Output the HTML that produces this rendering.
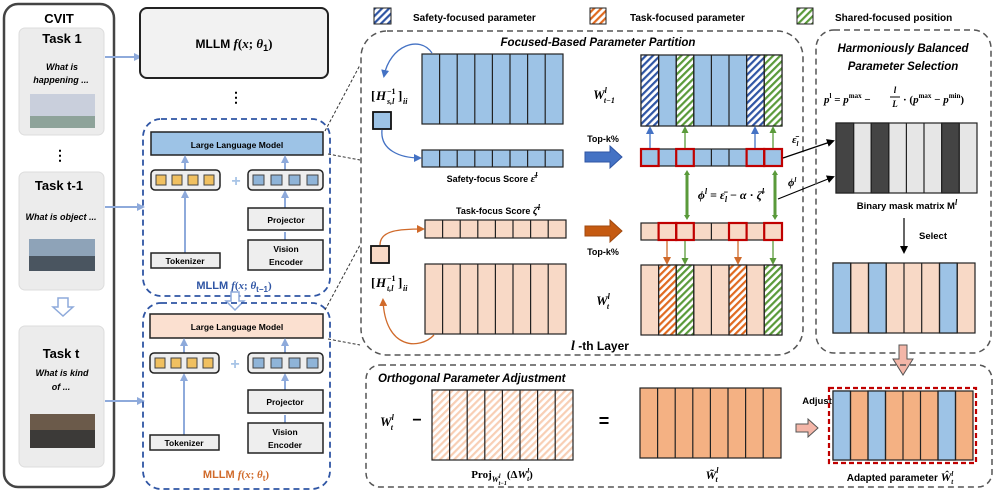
<!DOCTYPE html>
<html><head><meta charset="utf-8"><style>
html,body{margin:0;padding:0;background:#fff}
svg{display:block;font-family:"Liberation Sans",sans-serif}
.b{font-weight:bold}
.m{font-family:"Liberation Serif",serif;font-style:italic;font-weight:bold}
</style></head><body>
<svg width="997" height="493" viewBox="0 0 997 493" xmlns="http://www.w3.org/2000/svg">
<defs>
<pattern id="hb" width="5" height="5" patternUnits="userSpaceOnUse" patternTransform="rotate(45)"><rect width="5" height="5" fill="#fff"/><rect width="2.2" height="5" fill="#2f55a4"/></pattern>
<pattern id="ho" width="5" height="5" patternUnits="userSpaceOnUse" patternTransform="rotate(45)"><rect width="5" height="5" fill="#fff"/><rect width="2.2" height="5" fill="#e06a20"/></pattern>
<pattern id="hg" width="5" height="5" patternUnits="userSpaceOnUse" patternTransform="rotate(45)"><rect width="5" height="5" fill="#fff"/><rect width="2.2" height="5" fill="#5a9a3a"/></pattern>
<pattern id="hp" width="5" height="5" patternUnits="userSpaceOnUse" patternTransform="rotate(45)"><rect width="5" height="5" fill="#fff"/><rect width="2.2" height="5" fill="#f8cfb5"/></pattern>
<marker id="ab" markerWidth="8" markerHeight="8" refX="6" refY="4" orient="auto" markerUnits="userSpaceOnUse"><path d="M0,0 L8,4 L0,8 z" fill="#8eaadb"/></marker>
<marker id="ab2" markerWidth="8" markerHeight="8" refX="6" refY="4" orient="auto" markerUnits="userSpaceOnUse"><path d="M0,0 L8,4 L0,8 z" fill="#4472c4"/></marker>
<marker id="ao" markerWidth="8" markerHeight="8" refX="6" refY="4" orient="auto" markerUnits="userSpaceOnUse"><path d="M0,0 L8,4 L0,8 z" fill="#d06a2a"/></marker>
<marker id="ag" markerWidth="7" markerHeight="7" refX="5" refY="3.5" orient="auto" markerUnits="userSpaceOnUse"><path d="M0,0 L7,3.5 L0,7 z" fill="#5a9a3a"/></marker>
<marker id="ak" markerWidth="8" markerHeight="8" refX="6" refY="4" orient="auto" markerUnits="userSpaceOnUse"><path d="M0,0 L8,4 L0,8 z" fill="#000"/></marker>
</defs>

<!-- LEFT CVIT -->
<rect x="4" y="4" width="110" height="483" rx="14" fill="#fff" stroke="#444" stroke-width="2.5"/>
<text x="59" y="23" font-size="13" class="b" text-anchor="middle">CVIT</text>
<rect x="19" y="28" width="85" height="107" rx="6" fill="#ececec" stroke="#ddd"/>
<text x="62" y="43" font-size="13" class="b" text-anchor="middle">Task 1</text>
<text x="62" y="70" font-size="9" font-style="italic" class="b" text-anchor="middle">What is</text>
<text x="61" y="83" font-size="9" font-style="italic" class="b" text-anchor="middle">happening ...</text>
<rect x="30" y="94" width="65" height="34" fill="#c9cfdc"/><rect x="30" y="116" width="65" height="12" fill="#8ea39a"/>
<text x="60" y="160" font-size="14" class="b" text-anchor="middle">⋮</text>
<rect x="19" y="172" width="85" height="118" rx="6" fill="#ececec" stroke="#ddd"/>
<text x="59" y="190" font-size="13" class="b" text-anchor="middle">Task t-1</text>
<text x="61" y="220" font-size="9" font-style="italic" class="b" text-anchor="middle">What is object ...</text>
<rect x="29" y="239" width="66" height="32" fill="#8ea3b8"/><rect x="29" y="256" width="66" height="15" fill="#4a5560"/>
<path d="M58,298 h10 v9 h5 l-10,9 l-10,-9 h5 z" fill="#fff" stroke="#8eaadb" stroke-width="1.5"/>
<rect x="19" y="326" width="85" height="141" rx="6" fill="#ececec" stroke="#ddd"/>
<text x="61" y="358" font-size="13" class="b" text-anchor="middle">Task t</text>
<text x="62" y="376" font-size="9" font-style="italic" class="b" text-anchor="middle">What is kind</text>
<text x="61" y="390" font-size="9" font-style="italic" class="b" text-anchor="middle">of ...</text>
<rect x="30" y="414" width="65" height="34" fill="#6b5a4a"/><rect x="30" y="430" width="65" height="18" fill="#3c3a38"/>

<line x1="105" y1="57" x2="140" y2="57" stroke="#8eaadb" stroke-width="2" marker-end="url(#ab)"/>
<line x1="105" y1="207" x2="143" y2="207" stroke="#8eaadb" stroke-width="2" marker-end="url(#ab)"/>
<line x1="105" y1="401" x2="143" y2="401" stroke="#8eaadb" stroke-width="2" marker-end="url(#ab)"/>

<!-- MLLM 1 -->
<rect x="140" y="8" width="188" height="70" rx="7" fill="#f2f2f2" stroke="#222" stroke-width="2"/>
<text x="234" y="48" font-size="12" class="b" text-anchor="middle">MLLM <tspan class="m" font-size="13">f</tspan><tspan font-family="Liberation Serif" font-size="13">(</tspan><tspan class="m" font-size="13">x</tspan><tspan font-family="Liberation Serif" font-size="13">; </tspan><tspan class="m" font-size="13">θ</tspan><tspan font-size="9" dy="3">1</tspan><tspan font-family="Liberation Serif" font-size="13" dy="-3">)</tspan></text>
<text x="236" y="102" font-size="14" class="b" text-anchor="middle">⋮</text>

<!-- MLLM t-1 -->
<rect x="143" y="119" width="187" height="177" rx="18" fill="none" stroke="#2f55a4" stroke-width="1.8" stroke-dasharray="6,4"/>
<rect x="151" y="132" width="172" height="23" fill="#9dc3e6" stroke="#222" stroke-width="1.5"/>
<text x="237" y="148" font-size="8.5" class="b" text-anchor="middle">Large Language Model</text>
<g stroke="#8eaadb" stroke-width="2" fill="none">
<line x1="185" y1="170" x2="185" y2="157" marker-end="url(#ab)"/><line x1="285" y1="170" x2="285" y2="157" marker-end="url(#ab)"/>
<line x1="185" y1="253" x2="185" y2="192" marker-end="url(#ab)"/><line x1="285" y1="208" x2="285" y2="192" marker-end="url(#ab)"/>
<line x1="285" y1="240" x2="285" y2="232"/>
</g>
<rect x="151" y="170" width="69" height="20" rx="4" fill="#eee" stroke="#222" stroke-width="1.5"/>
<g fill="#f0c060" stroke="#444"><rect x="156" y="175" width="10" height="10"/><rect x="172" y="175" width="10" height="10"/><rect x="188" y="175" width="10" height="10"/><rect x="204" y="175" width="10" height="10"/></g>
<text x="236" y="186" font-size="16" class="b" fill="#a8c4e6" text-anchor="middle">+</text>
<rect x="248" y="170" width="75" height="20" rx="4" fill="#eee" stroke="#222" stroke-width="1.5"/>
<g fill="#8fb4d8" stroke="#444"><rect x="253" y="175" width="11" height="10"/><rect x="271" y="175" width="11" height="10"/><rect x="289" y="175" width="11" height="10"/><rect x="307" y="175" width="11" height="10"/></g>
<rect x="248" y="208" width="75" height="22" fill="#eee" stroke="#222" stroke-width="1.5"/>
<text x="286" y="223" font-size="8.5" class="b" text-anchor="middle">Projector</text>
<rect x="248" y="240" width="75" height="30" fill="#eee" stroke="#222" stroke-width="1.5"/>
<text x="286" y="252" font-size="8.5" class="b" text-anchor="middle">Vision</text><text x="286" y="265" font-size="8.5" class="b" text-anchor="middle">Encoder</text>
<rect x="151" y="253" width="69" height="15" fill="#eee" stroke="#222" stroke-width="1.5"/>
<text x="185" y="264" font-size="8.5" class="b" text-anchor="middle">Tokenizer</text>
<text x="234" y="289" font-size="11" class="b" fill="#2f55a4" text-anchor="middle">MLLM <tspan class="m">f</tspan><tspan font-family="Liberation Serif">(</tspan><tspan class="m">x</tspan><tspan font-family="Liberation Serif">; </tspan><tspan class="m">θ</tspan><tspan font-size="8" dy="3">t−1</tspan><tspan font-family="Liberation Serif" dy="-3">)</tspan></text>
<path d="M231,292 h8 v9 h5 l-9,9 l-9,-9 h5 z" fill="#fff" stroke="#8eaadb" stroke-width="1.5"/>

<!-- MLLM t -->
<rect x="143" y="303" width="187" height="186" rx="18" fill="none" stroke="#2f55a4" stroke-width="1.8" stroke-dasharray="6,4"/>
<rect x="150" y="314" width="173" height="24" fill="#fbe0d0" stroke="#222" stroke-width="1.5"/>
<text x="237" y="330" font-size="8.5" class="b" text-anchor="middle">Large Language Model</text>
<g stroke="#8eaadb" stroke-width="2" fill="none">
<line x1="184" y1="353" x2="184" y2="340" marker-end="url(#ab)"/><line x1="285" y1="353" x2="285" y2="340" marker-end="url(#ab)"/>
<line x1="184" y1="435" x2="184" y2="375" marker-end="url(#ab)"/><line x1="285" y1="390" x2="285" y2="375" marker-end="url(#ab)"/>
<line x1="285" y1="423" x2="285" y2="415"/>
</g>
<rect x="150" y="353" width="69" height="20" rx="4" fill="#eee" stroke="#222" stroke-width="1.5"/>
<g fill="#f0c060" stroke="#444"><rect x="155" y="358" width="10" height="10"/><rect x="171" y="358" width="10" height="10"/><rect x="187" y="358" width="10" height="10"/><rect x="203" y="358" width="10" height="10"/></g>
<text x="235" y="369" font-size="16" class="b" fill="#a8c4e6" text-anchor="middle">+</text>
<rect x="248" y="353" width="75" height="20" rx="4" fill="#eee" stroke="#222" stroke-width="1.5"/>
<g fill="#8fb4d8" stroke="#444"><rect x="253" y="358" width="11" height="10"/><rect x="271" y="358" width="11" height="10"/><rect x="289" y="358" width="11" height="10"/><rect x="307" y="358" width="11" height="10"/></g>
<rect x="248" y="390" width="75" height="23" fill="#eee" stroke="#222" stroke-width="1.5"/>
<text x="285" y="405" font-size="8.5" class="b" text-anchor="middle">Projector</text>
<rect x="248" y="423" width="75" height="30" fill="#eee" stroke="#222" stroke-width="1.5"/>
<text x="285" y="435" font-size="8.5" class="b" text-anchor="middle">Vision</text><text x="285" y="448" font-size="8.5" class="b" text-anchor="middle">Encoder</text>
<rect x="150" y="435" width="69" height="15" fill="#eee" stroke="#222" stroke-width="1.5"/>
<text x="184" y="446" font-size="8.5" class="b" text-anchor="middle">Tokenizer</text>
<text x="236" y="478" font-size="11" class="b" fill="#d06a2a" text-anchor="middle">MLLM <tspan class="m">f</tspan><tspan font-family="Liberation Serif">(</tspan><tspan class="m">x</tspan><tspan font-family="Liberation Serif">; </tspan><tspan class="m">θ</tspan><tspan font-size="8" dy="3">t</tspan><tspan font-family="Liberation Serif" dy="-3">)</tspan></text>

<!-- connectors -->
<g stroke="#333" stroke-width="1" stroke-dasharray="3,2" fill="none">
<line x1="325" y1="131" x2="360" y2="65"/><line x1="328" y1="154" x2="360" y2="160"/>
<line x1="325" y1="310" x2="360" y2="245"/><line x1="328" y1="339" x2="360" y2="345"/>
</g>

<!-- legend -->
<rect x="374" y="8" width="17" height="16" fill="url(#hb)" stroke="#222"/>
<text x="413" y="21" font-size="10" class="b">Safety-focused parameter</text>
<rect x="590" y="8" width="16" height="16" fill="url(#ho)" stroke="#222"/>
<text x="630" y="21" font-size="10" class="b">Task-focused parameter</text>
<rect x="797" y="8" width="16" height="16" fill="url(#hg)" stroke="#222"/>
<text x="835" y="21" font-size="10" class="b">Shared-focused position</text>

<!-- middle box -->
<rect x="361" y="31" width="442" height="324" rx="26" fill="none" stroke="#555" stroke-width="1.5" stroke-dasharray="6,4"/>
<text x="598" y="46" font-size="11.5" class="b" font-style="italic" text-anchor="middle">Focused-Based Parameter Partition</text>

<!-- left blue matrix -->
<g stroke="#222" stroke-width="1.2">
<rect x="422" y="54" width="141" height="70" fill="#9dc3e6"/>
<path d="M439.6,54v70M457.2,54v70M474.8,54v70M492.4,54v70M510,54v70M527.6,54v70M545.2,54v70"/>
<rect x="422" y="150" width="141" height="17" fill="#9dc3e6"/>
<path d="M439.6,150v17M457.2,150v17M474.8,150v17M492.4,150v17M510,150v17M527.6,150v17M545.2,150v17"/>
<rect x="425" y="220" width="141" height="18" fill="#f8d9c6"/>
<path d="M442.6,220v18M460.2,220v18M477.8,220v18M495.4,220v18M513,220v18M530.6,220v18M548.2,220v18"/>
<rect x="425" y="264" width="141" height="70" fill="#f8d9c6"/>
<path d="M442.6,264v70M460.2,264v70M477.8,264v70M495.4,264v70M513,264v70M530.6,264v70M548.2,264v70"/>
</g>
<path d="M432,53 C420,35 390,45 384,76" fill="none" stroke="#4472c4" stroke-width="1.3" marker-end="url(#ab2)"/>
<g font-family="Liberation Serif" font-weight="bold">
<text x="371" y="100" font-size="13">[</text>
<text x="376" y="100" font-size="13" font-style="italic">H</text>
<text x="387" y="94" font-size="8">−1</text>
<text x="387" y="104" font-size="8" font-style="italic">s,l</text>
<text x="398" y="100" font-size="13">]</text>
<text x="403" y="104" font-size="8" font-style="italic">ii</text>
<text x="371" y="287" font-size="13">[</text>
<text x="376" y="287" font-size="13" font-style="italic">H</text>
<text x="387" y="281" font-size="8">−1</text>
<text x="387" y="291" font-size="8" font-style="italic">t,l</text>
<text x="398" y="287" font-size="13">]</text>
<text x="403" y="291" font-size="8" font-style="italic">ii</text>
</g>
<rect x="373" y="112" width="18" height="17" fill="#9dc3e6" stroke="#111" stroke-width="1.8"/>
<path d="M382,130 C380,150 400,158 420,158" fill="none" stroke="#4472c4" stroke-width="1.3" marker-end="url(#ab2)"/>
<text x="492" y="182" font-size="9" class="b" text-anchor="middle">Safety-focus Score <tspan class="m" font-size="11">ε̄</tspan><tspan class="m" font-size="8" dy="-4">l</tspan></text>
<text x="498" y="214" font-size="9" class="b" text-anchor="middle">Task-focus Score <tspan class="m" font-size="11">ζ̄</tspan><tspan class="m" font-size="8" dy="-4">l</tspan></text>
<rect x="371" y="246" width="18" height="17" fill="#f8d9c6" stroke="#111" stroke-width="1.8"/>
<path d="M380,245 C380,230 400,229 423,229" fill="none" stroke="#d06a2a" stroke-width="1.3" marker-end="url(#ao)"/>
<path d="M434,335 C420,350 385,350 383,300" fill="none" stroke="#d06a2a" stroke-width="1.3" marker-end="url(#ao)"/>

<!-- Top-k arrows -->
<text x="603" y="142" font-size="9" class="b" text-anchor="middle">Top-k%</text>
<path d="M585,152 h25 v-6 l12,11 l-12,11 v-6 h-25 z" fill="#4472c4" stroke="#2f55a4"/>
<path d="M585,226 h25 v-6 l12,11 l-12,11 v-6 h-25 z" fill="#c55a11" stroke="#a04a10"/>
<text x="603" y="255" font-size="9" class="b" text-anchor="middle">Top-k%</text>
<text x="604" y="99" font-size="13" class="m" text-anchor="middle">W<tspan font-size="8" dy="-6">l</tspan><tspan font-size="8" dx="-3" dy="10">t−1</tspan></text>
<text x="603" y="305" font-size="13" class="m" text-anchor="middle">W<tspan font-size="8" dy="-6">l</tspan><tspan font-size="8" dx="-3" dy="10">t</tspan></text>

<!-- right W_{t-1} -->
<g stroke="#222" stroke-width="1.2">
<rect x="641" y="55" width="141" height="71" fill="#9dc3e6"/>
<rect x="641" y="55" width="17.6" height="71" fill="url(#hb)"/>
<rect x="676.2" y="55" width="17.6" height="71" fill="url(#hg)"/>
<rect x="746.6" y="55" width="17.6" height="71" fill="url(#hb)"/>
<rect x="764.2" y="55" width="17.8" height="71" fill="url(#hg)"/>
<path d="M658.6,55v71M676.2,55v71M693.8,55v71M711.4,55v71M729,55v71M746.6,55v71M764.2,55v71"/>
<rect x="641" y="149" width="141" height="17" fill="#9dc3e6"/>
<path d="M658.6,149v17M676.2,149v17M693.8,149v17M711.4,149v17M729,149v17M746.6,149v17M764.2,149v17"/>
<rect x="641" y="223" width="141" height="17" fill="#f8d9c6"/>
<path d="M658.6,223v17M676.2,223v17M693.8,223v17M711.4,223v17M729,223v17M746.6,223v17M764.2,223v17"/>
<rect x="641" y="265" width="141" height="70" fill="#f8d9c6"/>
<rect x="658.6" y="265" width="17.6" height="70" fill="url(#ho)"/>
<rect x="676.2" y="265" width="17.6" height="70" fill="url(#hg)"/>
<rect x="729" y="265" width="17.6" height="70" fill="url(#ho)"/>
<rect x="764.2" y="265" width="17.8" height="70" fill="url(#hg)"/>
<path d="M658.6,265v70M676.2,265v70M693.8,265v70M711.4,265v70M729,265v70M746.6,265v70M764.2,265v70"/>
</g>
<g fill="none" stroke="#c00000" stroke-width="2.2">
<rect x="641" y="149" width="17.6" height="17"/><rect x="676.2" y="149" width="17.6" height="17"/><rect x="746.6" y="149" width="17.6" height="17"/><rect x="764.2" y="149" width="17.8" height="17"/>
<rect x="658.6" y="223" width="17.6" height="17"/><rect x="676.2" y="223" width="17.6" height="17"/><rect x="729" y="223" width="17.6" height="17"/><rect x="764.2" y="223" width="17.8" height="17"/>
</g>
<g stroke-width="1.3">
<line x1="650" y1="148" x2="650" y2="128" stroke="#4472c4" marker-end="url(#ab2)"/>
<line x1="685" y1="148" x2="685" y2="128" stroke="#5a9a3a" marker-end="url(#ag)"/>
<line x1="755" y1="148" x2="755" y2="128" stroke="#4472c4" marker-end="url(#ab2)"/>
<line x1="773" y1="148" x2="773" y2="128" stroke="#5a9a3a" marker-end="url(#ag)"/>
<line x1="667" y1="241" x2="667" y2="263" stroke="#d06a2a" marker-end="url(#ao)"/>
<line x1="685" y1="241" x2="685" y2="263" stroke="#5a9a3a" marker-end="url(#ag)"/>
<line x1="738" y1="241" x2="738" y2="263" stroke="#d06a2a" marker-end="url(#ao)"/>
<line x1="773" y1="241" x2="773" y2="263" stroke="#5a9a3a" marker-end="url(#ag)"/>
</g>
<g stroke="#5a9a3a" stroke-width="3">
<line x1="687" y1="174" x2="687" y2="216"/><line x1="775" y1="174" x2="775" y2="216"/>
</g>
<path d="M687,170 l-3,5 h6 z M687,220 l-3,-5 h6 z M775,170 l-3,5 h6 z M775,220 l-3,-5 h6 z" fill="#5a9a3a"/>
<text x="731" y="199" font-size="12" class="m" text-anchor="middle">ϕ<tspan font-size="8" dy="-5">l</tspan><tspan dy="5" font-style="normal"> = </tspan>ε̄<tspan font-size="8" dy="3">l</tspan><tspan dy="-3" font-style="normal"> − </tspan>α<tspan font-style="normal"> · </tspan>ζ̄<tspan font-size="8" dy="-5">l</tspan></text>
<text x="792" y="143" font-size="11" class="m">ε̄<tspan font-size="7" dy="3">l</tspan></text>
<text x="788" y="186" font-size="11" class="m">ϕ<tspan font-size="7" dy="-4">l</tspan></text>
<line x1="783" y1="158" x2="833" y2="141" stroke="#000" stroke-width="1.2" marker-end="url(#ak)"/>
<line x1="778" y1="199" x2="833" y2="177" stroke="#000" stroke-width="1.2" marker-end="url(#ak)"/>
<text x="600" y="350" font-size="12" class="b" text-anchor="middle"><tspan class="m" font-size="14">l</tspan> -th Layer</text>

<!-- right box -->
<rect x="816" y="30" width="175" height="323" rx="18" fill="none" stroke="#555" stroke-width="1.5" stroke-dasharray="6,4"/>
<text x="903" y="52" font-size="11.5" class="b" font-style="italic" text-anchor="middle">Harmoniously Balanced</text>
<text x="903" y="70" font-size="11.5" class="b" font-style="italic" text-anchor="middle">Parameter Selection</text>
<text x="824" y="103" font-size="11" font-family="Liberation Serif" font-weight="bold"><tspan font-style="italic">p</tspan><tspan font-size="7" dy="-5">l</tspan><tspan dy="5"> = </tspan><tspan font-style="italic">p</tspan><tspan font-size="7" dy="-5">max</tspan><tspan dy="5"> − </tspan></text>
<text x="895" y="93" font-size="9" class="m" text-anchor="middle">l</text><line x1="890" y1="97" x2="900" y2="97" stroke="#000"/><text x="895" y="107" font-size="9" class="m" text-anchor="middle">L</text>
<text x="903" y="103" font-size="11" font-family="Liberation Serif" font-weight="bold">· (<tspan font-style="italic">p</tspan><tspan font-size="7" dy="-5">max</tspan><tspan dy="5"> − </tspan><tspan font-style="italic">p</tspan><tspan font-size="7" dy="-5">min</tspan><tspan dy="5">)</tspan></text>
<g stroke="#222" stroke-width="1.2">
<rect x="836" y="123" width="141" height="70" fill="#e6e6e6"/>
<rect x="836" y="123" width="17.6" height="70" fill="#444"/>
<rect x="871.2" y="123" width="17.6" height="70" fill="#444"/>
<rect x="941.6" y="123" width="17.6" height="70" fill="#444"/>
<path d="M853.6,123v70M871.2,123v70M888.8,123v70M906.4,123v70M924,123v70M941.6,123v70M959.2,123v70"/>
</g>
<text x="907" y="209" font-size="9.5" class="b" text-anchor="middle">Binary mask matrix M<tspan class="m" font-size="8" dy="-4">l</tspan></text>
<line x1="904" y1="218" x2="904" y2="252" stroke="#000" stroke-width="1.2" marker-end="url(#ak)"/>
<text x="933" y="239" font-size="9.5" class="b" text-anchor="middle">Select</text>
<g stroke="#222" stroke-width="1.2">
<rect x="833" y="263" width="142" height="70" fill="#f8d9c6"/>
<rect x="833" y="263" width="17.7" height="70" fill="#9dc3e6"/>
<rect x="868.5" y="263" width="17.7" height="70" fill="#9dc3e6"/>
<rect x="939.5" y="263" width="17.7" height="70" fill="#9dc3e6"/>
<path d="M850.7,263v70M868.5,263v70M886.2,263v70M904,263v70M921.7,263v70M939.5,263v70M957.2,263v70"/>
</g>
<path d="M899,345 h8 v14 h6 l-10,16 l-10,-16 h6 z" fill="#f4b6a8" stroke="#555"/>

<!-- bottom box -->
<rect x="366" y="365" width="626" height="122" rx="14" fill="none" stroke="#555" stroke-width="1.5" stroke-dasharray="6,4"/>
<text x="378" y="382" font-size="11.5" class="b" font-style="italic">Orthogonal Parameter Adjustment</text>
<text x="380" y="426" font-size="13" class="m">W<tspan font-size="8" dy="-6">l</tspan><tspan font-size="8" dx="-3" dy="10">t</tspan></text>
<text x="417" y="425" font-size="16" class="b" text-anchor="middle">−</text>
<g stroke="#222" stroke-width="1.2">
<rect x="432" y="390" width="141" height="70" fill="url(#hp)"/>
<path d="M449.6,390v70M467.2,390v70M484.8,390v70M502.4,390v70M520,390v70M537.6,390v70M555.2,390v70"/>
<rect x="640" y="388" width="141" height="70" fill="#f4b183"/>
<path d="M657.6,388v70M675.2,388v70M692.8,388v70M710.4,388v70M728,388v70M745.6,388v70M763.2,388v70"/>
</g>
<text x="604" y="427" font-size="18" class="b" text-anchor="middle">=</text>
<text x="502" y="478" font-size="11" font-family="Liberation Serif" font-weight="bold" text-anchor="middle">Proj<tspan font-size="8" font-style="italic" dy="4">W</tspan><tspan font-size="6" font-style="italic" dy="-4">l</tspan><tspan font-size="6" font-style="italic" dx="-2" dy="7">t−1</tspan><tspan dy="-7">(Δ</tspan><tspan font-style="italic">W</tspan><tspan font-size="7" font-style="italic" dy="-5">l</tspan><tspan font-size="7" font-style="italic" dx="-2" dy="8">t</tspan><tspan dy="-3">)</tspan></text>
<text x="712" y="479" font-size="12" class="m" text-anchor="middle">W̃<tspan font-size="8" dy="-6">l</tspan><tspan font-size="8" dx="-3" dy="9">t</tspan></text>
<text x="817" y="404" font-size="9.5" class="b" text-anchor="middle">Adjust</text>
<path d="M796,424 h12 v-5 l10,9 l-10,9 v-5 h-12 z" fill="#f4b6a8" stroke="#555"/>
<rect x="829" y="388" width="147" height="75" fill="none" stroke="#c00000" stroke-width="2.2" stroke-dasharray="5,3"/>
<g stroke="#222" stroke-width="1.2">
<rect x="833" y="391" width="140" height="69" fill="#f4b183"/>
<rect x="833" y="391" width="17.5" height="69" fill="#9dc3e6"/>
<rect x="868" y="391" width="17.5" height="69" fill="#9dc3e6"/>
<rect x="938" y="391" width="17.5" height="69" fill="#9dc3e6"/>
<path d="M850.5,391v69M868,391v69M885.5,391v69M903,391v69M920.5,391v69M938,391v69M955.5,391v69"/>
</g>
<text x="900" y="481" font-size="10" class="b" text-anchor="middle">Adapted parameter <tspan class="m" font-size="12">Ŵ</tspan><tspan class="m" font-size="7" dy="-5">l</tspan><tspan class="m" font-size="7" dx="-2" dy="8">t</tspan></text>
</svg>
</body></html>
